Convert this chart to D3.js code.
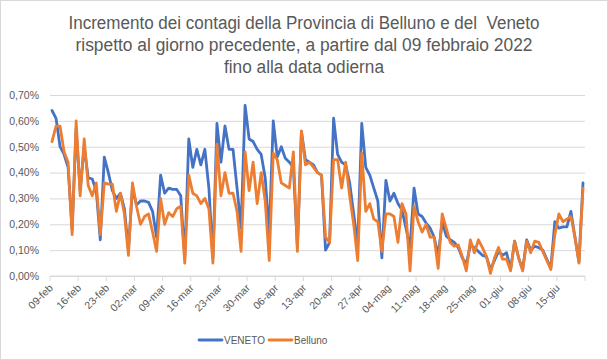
<!DOCTYPE html>
<meta charset='utf-8'>
<style>
    body {
        margin: 0;
        background: #fff;
    }
    svg text {
        font-family: 'Liberation Sans', Arial, sans-serif;
        fill: #595959;
    }
</style>
<body>
    <script src='https://d3js.org/d3.v7.min.js'></script>
    <script>
        // daily increase (%) from 09-feb-2022 to 21-giu-2022
        const veneto = [
            0.64, 0.61, 0.50, 0.47, 0.42, 0.18, 0.57, 0.33, 0.50, 0.38,
            0.375, 0.33, 0.14, 0.46, 0.40, 0.33, 0.30, 0.32, 0.26, 0.10,
            0.34, 0.275, 0.29, 0.29, 0.285, 0.25, 0.15, 0.39, 0.32, 0.34,
            0.335, 0.335, 0.31, 0.07, 0.53, 0.42, 0.49, 0.43, 0.49, 0.34,
            0.07, 0.59, 0.44, 0.58, 0.49, 0.49, 0.34, 0.185, 0.66, 0.53,
            0.52, 0.49, 0.47, 0.38, 0.16, 0.60, 0.46, 0.50, 0.455, 0.44,
            0.42, 0.11, 0.56, 0.45, 0.44, 0.43, 0.40, 0.39, 0.10, 0.13,
            0.61, 0.47, 0.44, 0.43, 0.36, 0.24, 0.12, 0.59, 0.42, 0.39,
            0.34, 0.29, 0.07, 0.37, 0.29, 0.32, 0.28, 0.255, 0.185, 0.11,
            0.34, 0.24, 0.23, 0.205, 0.185, 0.15, 0.08, 0.21, 0.155, 0.14,
            0.13, 0.11, 0.07, 0.045, 0.12, 0.11, 0.095, 0.08, 0.075, 0.025,
            0.06, 0.095, 0.08, 0.09, 0.025, 0.135, 0.07, 0.025, 0.14, 0.10,
            0.115, 0.11, 0.10, 0.065, 0.03, 0.21, 0.185, 0.19, 0.19, 0.25,
            0.15, 0.055, 0.36
        ];
        const belluno = [
            0.52, 0.58, 0.58, 0.48, 0.44, 0.16, 0.60, 0.31, 0.53, 0.35,
            0.31, 0.36, 0.16, 0.36, 0.355, 0.355, 0.25, 0.32, 0.24, 0.08,
            0.36, 0.27, 0.20, 0.23, 0.24, 0.17, 0.095, 0.30, 0.20, 0.245,
            0.23, 0.26, 0.27, 0.05, 0.39, 0.32, 0.31, 0.28, 0.30, 0.26,
            0.05, 0.51, 0.31, 0.40, 0.32, 0.32, 0.25, 0.095, 0.48, 0.33,
            0.44, 0.28, 0.40, 0.29, 0.06, 0.475, 0.45, 0.36, 0.35, 0.34,
            0.48, 0.095, 0.56, 0.43, 0.44, 0.42, 0.40, 0.39, 0.15, 0.13,
            0.45, 0.45, 0.34, 0.44, 0.31, 0.20, 0.06, 0.475, 0.25, 0.28,
            0.22, 0.21, 0.095, 0.24, 0.24, 0.23, 0.13, 0.28, 0.24, 0.02,
            0.27, 0.21, 0.17, 0.20, 0.15, 0.15, 0.03, 0.24, 0.185, 0.13,
            0.115, 0.12, 0.075, 0.02, 0.14, 0.09, 0.14, 0.11, 0.075, 0.01,
            0.07, 0.11, 0.065, 0.065, 0.02, 0.135, 0.07, 0.02, 0.135, 0.09,
            0.135, 0.13, 0.095, 0.06, 0.025, 0.16, 0.24, 0.21, 0.22, 0.23,
            0.15, 0.05, 0.34
        ];
        // one label every 7 days
        const tickLabels = [
            '09-feb', '16-feb', '23-feb', '02-mar', '09-mar', '16-mar', '23-mar',
            '30-mar', '06-apr', '13-apr', '20-apr', '27-apr', '04-mag', '11-mag',
            '18-mag', '25-mag', '01-giu', '08-giu', '15-giu'
        ];
        const yTicks = [0, 0.1, 0.2, 0.3, 0.4, 0.5, 0.6, 0.7];
        const titleLines = [
            'Incremento dei contagi della Provincia di Belluno e del\u00a0 Veneto',
            'rispetto al giorno precedente, a partire dal 09 febbraio 2022',
            'fino alla data odierna'
        ];
        const seriesNames = ['VENETO', 'Belluno'];

        const colors = { 'VENETO': '#4472c4', 'Belluno': '#ed7d31' };
        const plot = { left: 50, right: 585, top: 95, bottom: 276 };

        let svg = d3.select('body').append('svg')
            .attr('width', 608)
            .attr('height', 360);

        // chart border
        svg.append('rect')
            .attr('x', 0.5).attr('y', 0.5)
            .attr('width', 607).attr('height', 359)
            .attr('fill', '#fff')
            .attr('stroke', '#d9d9d9');

        // Title
        const titleWidths = [471, 457, 160];
        svg.append('g')
            .selectAll('text')
            .data(titleLines)
            .enter().append('text')
                .attr('x', 304)
                .attr('y', (d, i) => 29 + i * 22)
                .attr('text-anchor', 'middle')
                .attr('font-size', 18)
                .attr('textLength', (d, i) => titleWidths[i])
                .attr('lengthAdjust', 'spacingAndGlyphs')
                .text(d => d);

        // Scales
        let xScale = d3.scaleBand()
            .domain(d3.range(veneto.length))
            .range([plot.left, plot.right]);
        const xMid = i => xScale(i) + xScale.bandwidth() / 2;

        let yScale = d3.scaleLinear()
            .domain([0, 0.7])
            .range([plot.bottom, plot.top]);

        const fmtPct = d => d.toFixed(2).replace('.', ',') + '%';

        // Y axis + grid
        let yAxis = d3.axisLeft(yScale)
            .tickValues(yTicks)
            .tickSize(-(plot.right - plot.left))
            .tickPadding(11)
            .tickFormat(fmtPct);

        let gy = svg.append('g')
            .attr('class', 'y axis')
            .attr('transform', `translate(${plot.left}, 0)`)
            .call(yAxis);
        gy.select('.domain').remove();
        gy.selectAll('line').attr('stroke', '#d9d9d9');
        gy.selectAll('text')
            .attr('font-size', 10.5)
            .attr('fill', '#595959')
            .style('font-family', "'Liberation Sans', Arial, sans-serif");

        // X axis
        let tickIdx = tickLabels.map((d, i) => i * 7);
        let gx = svg.append('g').attr('class', 'x axis');
        gx.append('line')
            .attr('x1', plot.left).attr('x2', plot.right)
            .attr('y1', plot.bottom).attr('y2', plot.bottom)
            .attr('stroke', '#d9d9d9');
        let tickXs = tickIdx.map(i => xScale(i)).concat([plot.right]);
        gx.selectAll('.tick-mark')
            .data(tickXs)
            .enter().append('line')
                .attr('class', 'tick-mark')
                .attr('x1', d => d).attr('x2', d => d)
                .attr('y1', plot.bottom).attr('y2', plot.bottom + 5)
                .attr('stroke', '#d9d9d9');
        gx.selectAll('.tick-label')
            .data(tickLabels)
            .enter().append('text')
                .attr('class', 'tick-label')
                .attr('font-size', 10.5)
                .attr('text-anchor', 'end')
                .attr('dy', '0.35em')
                .attr('transform', (d, i) => `translate(${xScale(tickIdx[i]) + 1}, ${plot.bottom + 10}) rotate(-45)`)
                .text(d => d);

        // Lines
        let line = d3.line()
            .x((d, i) => xMid(i))
            .y(d => yScale(d));

        [veneto, belluno].forEach((values, k) => {
            svg.append('path')
                .datum(values)
                .attr('fill', 'none')
                .attr('stroke', colors[seriesNames[k]])
                .attr('stroke-width', 2.8)
                .attr('stroke-linejoin', 'round')
                .attr('stroke-linecap', 'round')
                .attr('d', line);
        });

        // Legend
        let legend = svg.append('g').attr('class', 'legend');
        let legendX = [199, 269];
        seriesNames.forEach((name, i) => {
            legend.append('line')
                .attr('x1', legendX[i]).attr('x2', legendX[i] + 23)
                .attr('y1', 340).attr('y2', 340)
                .attr('stroke', colors[name])
                .attr('stroke-width', 2.8)
                .attr('stroke-linecap', 'round');
            legend.append('text')
                .attr('x', legendX[i] + 25)
                .attr('y', 344)
                .attr('font-size', 10)
                .text(name);
        });
    </script>
</body>
